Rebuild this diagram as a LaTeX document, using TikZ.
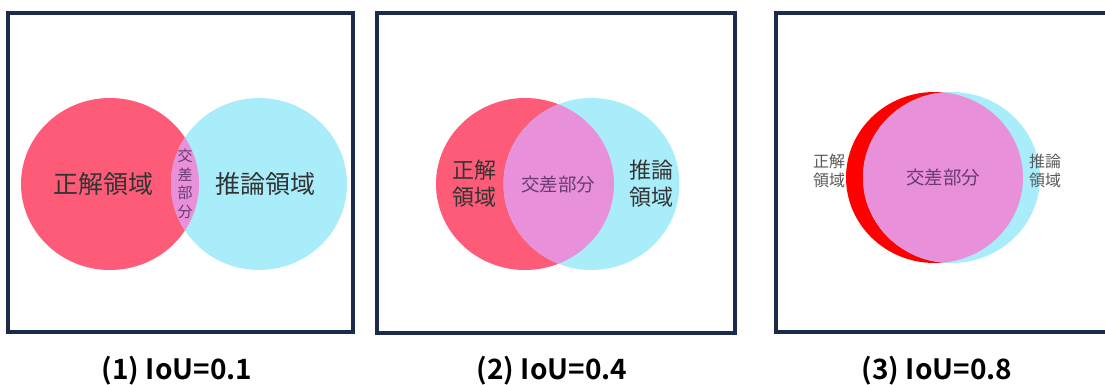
\documentclass[tikz,border=0pt]{standalone}
\usepackage{fontspec}
\newfontfamily\jp{Noto Sans CJK JP}
\newfontfamily\jpb{Noto Sans CJK JP Bold}
\definecolor{frame}{HTML}{1C2B4B}
\definecolor{gtred}{HTML}{FD5B78}
\definecolor{prcyan}{HTML}{AAEDFA}
\definecolor{lens}{HTML}{E890D9}
\definecolor{puretred}{HTML}{FF0000}
\definecolor{txt}{HTML}{333333}
\definecolor{lenstxt}{HTML}{6A3A70}
\tikzset{
  panelbox/.style={draw=frame, line width=4pt},
  lbl/.style={font=\jp, text=txt, align=center, inner sep=0pt},
  caption/.style={font=\jpb\fontsize{28}{30}\selectfont, text=black, inner sep=0pt},
}
\begin{document}
\begin{tikzpicture}[x=1pt,y=-1pt]
\useasboundingbox (0,0) rectangle (1105,385);
% ---------- panel 1 ----------
\node[panelbox, minimum width=345pt, minimum height=319pt, inner sep=0pt] (box1) at (180.5,172.5) {};
\fill[gtred] (110,184) ellipse [x radius=89, y radius=86];
\fill[prcyan] (259,184) ellipse [x radius=88, y radius=86];
\begin{scope}
  \clip (110,184) ellipse [x radius=89, y radius=86];
  \fill[lens] (259,184) ellipse [x radius=88, y radius=86];
\end{scope}
\node[lbl, font=\jp\fontsize{25}{28}\selectfont] (gt1) at (103,184) {正解領域};
\node[lbl, font=\jp\fontsize{25}{28}\selectfont] (pr1) at (265,184) {推論領域};
\node[lbl, text=lenstxt, font=\jp\fontsize{15}{18.5}\selectfont] (ov1) at (185,184) {交\\差\\部\\分};
\node[caption] (cap1) at (177,371) {(1) IoU=0.1};
% ---------- panel 2 ----------
\node[panelbox, minimum width=358pt, minimum height=320pt, inner sep=0pt] (box2) at (556,173) {};
\fill[gtred] (525,184) ellipse [x radius=89, y radius=86];
\fill[prcyan] (591.5,184) ellipse [x radius=88, y radius=86];
\begin{scope}
  \clip (525,184) ellipse [x radius=89, y radius=86];
  \fill[lens] (591.5,184) ellipse [x radius=88, y radius=86];
\end{scope}
\node[lbl, font=\jp\fontsize{22}{27}\selectfont] (gt2) at (474,184) {正解\\領域};
\node[lbl, font=\jp\fontsize{22}{27}\selectfont] (pr2) at (651,184) {推論\\領域};
\node[lbl, text=lenstxt, font=\jp\fontsize{18.5}{20}\selectfont] (ov2) at (558,184) {交差部分};
\node[caption] (cap2) at (552,371) {(2) IoU=0.4};
% ---------- panel 3 ----------
\node[panelbox, minimum width=350pt, minimum height=319pt, inner sep=0pt] (box3) at (951,172.5) {};
\fill[puretred] (934.5,177.5) ellipse [x radius=88.5, y radius=85.5];
\fill[prcyan] (951.5,177.5) ellipse [x radius=88.5, y radius=85.5];
\begin{scope}
  \clip (934.5,177.5) ellipse [x radius=88.5, y radius=85.5];
  \fill[lens] (951.5,177.5) ellipse [x radius=88.5, y radius=85.5];
\end{scope}
\node[lbl, text=black!65, font=\jp\fontsize{16}{19}\selectfont] (gt3) at (829,171) {正解\\領域};
\node[lbl, text=black!65, font=\jp\fontsize{16}{19}\selectfont] (pr3) at (1045,171) {推論\\領域};
\node[lbl, text=lenstxt, font=\jp\fontsize{18.5}{20}\selectfont] (ov3) at (943,177) {交差部分};
\node[caption] (cap3) at (937,371) {(3) IoU=0.8};
\end{tikzpicture}
\end{document}
